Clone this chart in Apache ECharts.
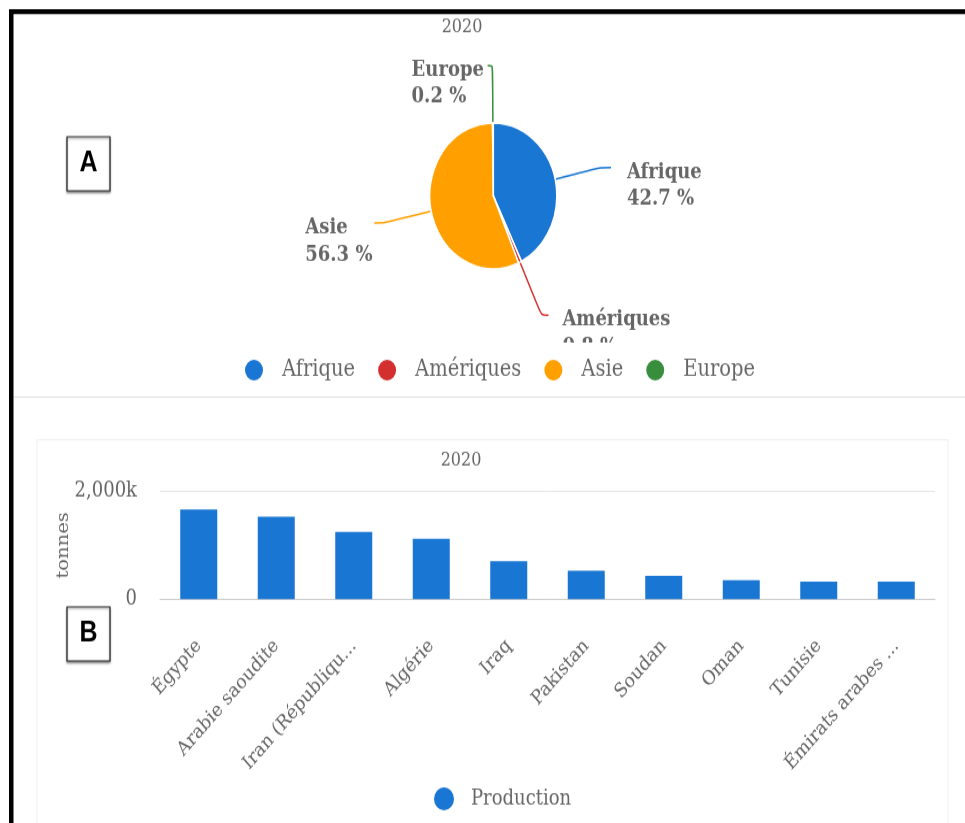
<!DOCTYPE html>
<html>
<head>
<meta charset="utf-8">
<script src="https://cdn.jsdelivr.net/npm/echarts@6/dist/echarts.min.js"></script>
<style>
  html { overflow: hidden; background: #fff; }
  body { margin: 0; padding: 0; width: 965px; height: 823px; background: #fff; }
  /* the source screenshot is stretched vertically, so the chart is drawn flat and stretched */
  #echarts { width: 965px; height: 716px; transform: scaleY(1.1494); transform-origin: 0 0; }
</style>
</head>
<body>
<div id="echarts"></div>
<script>
const regions = ['Afrique', 'Amériques', 'Asie', 'Europe'];
const regionShare = [42.7, 0.8, 56.3, 0.2];
const regionColors = ['#1976d2', '#d32f2f', '#ffa000', '#388e3c'];

const countries = ['Égypte', 'Arabie saoudite', "Iran (République islamique d')", 'Algérie', 'Iraq',
  'Pakistan', 'Soudan', 'Oman', 'Tunisie', 'Émirats arabes unis'];
const production = [1665000, 1530000, 1250000, 1120000, 705000, 530000, 435000, 355000, 325000, 325000];
const yTicks = [0, 2000000];

// label line tweaks per slice (layout only)
const lineTweaks = [
  { length: 45, length2: 12, dist: 16 },
  { length: 51, length2: 7, dist: 14 },
  { length: 50, length2: 8, dist: -5 },
  { length: 50, length2: 5, dist: 2 },
];

const serif = 'DejaVu Serif';
const grey = '#666';

let myChart = echarts.init(document.getElementById('echarts'));

function panelBox(x, y, letter) {
  return [
    {
      type: 'rect', z: 20,
      shape: { x: x, y: y, width: 43, height: 47 },
      style: { fill: '#fff', stroke: '#222', lineWidth: 1.2, shadowColor: 'rgba(0,0,0,0.35)', shadowOffsetY: 1.5, shadowBlur: 2 },
    },
    {
      type: 'text', z: 21,
      x: x + 21.5, y: y + 23.5,
      style: { text: letter, fontFamily: 'Liberation Sans', fontWeight: 'bold', fontSize: 25, fill: '#000', align: 'center', verticalAlign: 'middle' },
    },
  ];
}

let option = {
  animation: false,
  backgroundColor: '#fff',
  title: [
    {
      text: '2020', left: 462, top: 16, textAlign: 'center', padding: 0,
      textStyle: { fontFamily: serif, fontSize: 16, fontWeight: 'normal', color: grey },
    },
    {
      text: '2020', left: 461, top: 393, textAlign: 'center', padding: 0,
      textStyle: { fontFamily: serif, fontSize: 16, fontWeight: 'normal', color: grey },
    },
  ],
  legend: [
    {
      data: regions, left: 243, top: 311, padding: 0, z: 5,
      icon: 'circle', itemWidth: 20, itemHeight: 20, itemGap: 21,
      textStyle: { fontFamily: serif, fontSize: 19.5, color: grey, padding: [0, 0, 0, 13] },
    },
    {
      data: ['Production'], left: 434, top: 685, padding: 0, z: 5,
      icon: 'circle', itemWidth: 20, itemHeight: 20,
      textStyle: { fontFamily: serif, fontSize: 18, color: grey, padding: [0, 0, 0, 12] },
    },
  ],
  grid: {
    left: 160, right: 30, top: 427.5, height: 93.8,
    outerBoundsMode: 'none', containLabel: false,
  },
  xAxis: {
    type: 'category',
    data: countries,
    axisLine: { lineStyle: { color: '#ccc' } },
    axisTick: { length: 10.5, lineStyle: { color: '#ccc' } },
    axisLabel: {
      interval: 0, rotate: 45, margin: 38,
      fontFamily: serif, fontSize: 17, color: grey,
      formatter: (name) => (name.length > 16 ? name.slice(0, 15) + '...' : name),
    },
  },
  yAxis: {
    type: 'value',
    min: yTicks[0], max: yTicks[1], interval: yTicks[1] - yTicks[0],
    name: 'tonnes', nameLocation: 'middle', nameGap: 88, nameMoveOverlap: false,
    nameTextStyle: { fontFamily: serif, fontSize: 17, color: grey },
    axisLine: { show: false },
    axisTick: { show: false },
    splitLine: { lineStyle: { color: '#e6e6e6' } },
    axisLabel: {
      margin: 23, fontFamily: serif, fontSize: 18, color: grey, padding: [6, 0, 0, 0],
      formatter: (v) => (v === 0 ? '0' : (v / 1000).toLocaleString('en-US') + 'k'),
    },
  },
  series: [
    {
      name: 'Régions',
      type: 'pie',
      center: [493.3, 170.4],
      radius: 63.5,
      startAngle: 90,
      percentPrecision: 1,
      avoidLabelOverlap: false,
      itemStyle: { borderColor: '#fff', borderWidth: 1.5 },
      label: {
        show: true,
        position: 'outside',
        formatter: '{t|{b}}\n{t|{d} %}',
        padding: [32, 0, 0, 0],
        rich: {
          t: { width: 74, align: 'left', fontFamily: serif, fontWeight: 'bold', fontSize: 18, lineHeight: 23.5, color: grey },
        },
      },
      labelLine: { smooth: 0.3, lineStyle: { width: 1.5 } },
      data: regions.map((name, i) => ({
        name: name,
        value: regionShare[i],
        itemStyle: { color: regionColors[i] },
        labelLine: { length: lineTweaks[i].length, length2: lineTweaks[i].length2 },
        label: { distanceToLabelLine: lineTweaks[i].dist },
      })),
    },
    {
      name: 'Production',
      type: 'bar',
      barWidth: 37,
      itemStyle: { color: '#1976d2' },
      data: production,
    },
  ],
  graphic: [
    // white band that clips the bottom pie label, as in the source
    { type: 'rect', z: 3, shape: { x: 14, y: 298, width: 951, height: 46 }, style: { fill: '#fff' } },
    // separator between the two panels and frame of the lower panel
    { type: 'rect', z: 3, shape: { x: 13, y: 345, width: 952, height: 1 }, style: { fill: '#e2e2e2' } },
    { type: 'rect', z: 1, shape: { x: 37, y: 382.6, width: 911, height: 400 }, style: { fill: 'none', stroke: '#efefef', lineWidth: 1 } },
    // black outer frame
    { type: 'rect', z: 30, shape: { x: 9, y: 8.1, width: 960, height: 4.1 }, style: { fill: '#000' } },
    { type: 'rect', z: 30, shape: { x: 9, y: 8.1, width: 4.5, height: 710 }, style: { fill: '#000' } },
    ...panelBox(67, 119, 'A'),
    ...panelBox(67, 528, 'B'),
  ],
};
myChart.setOption(option);
</script>
</body>
</html>
